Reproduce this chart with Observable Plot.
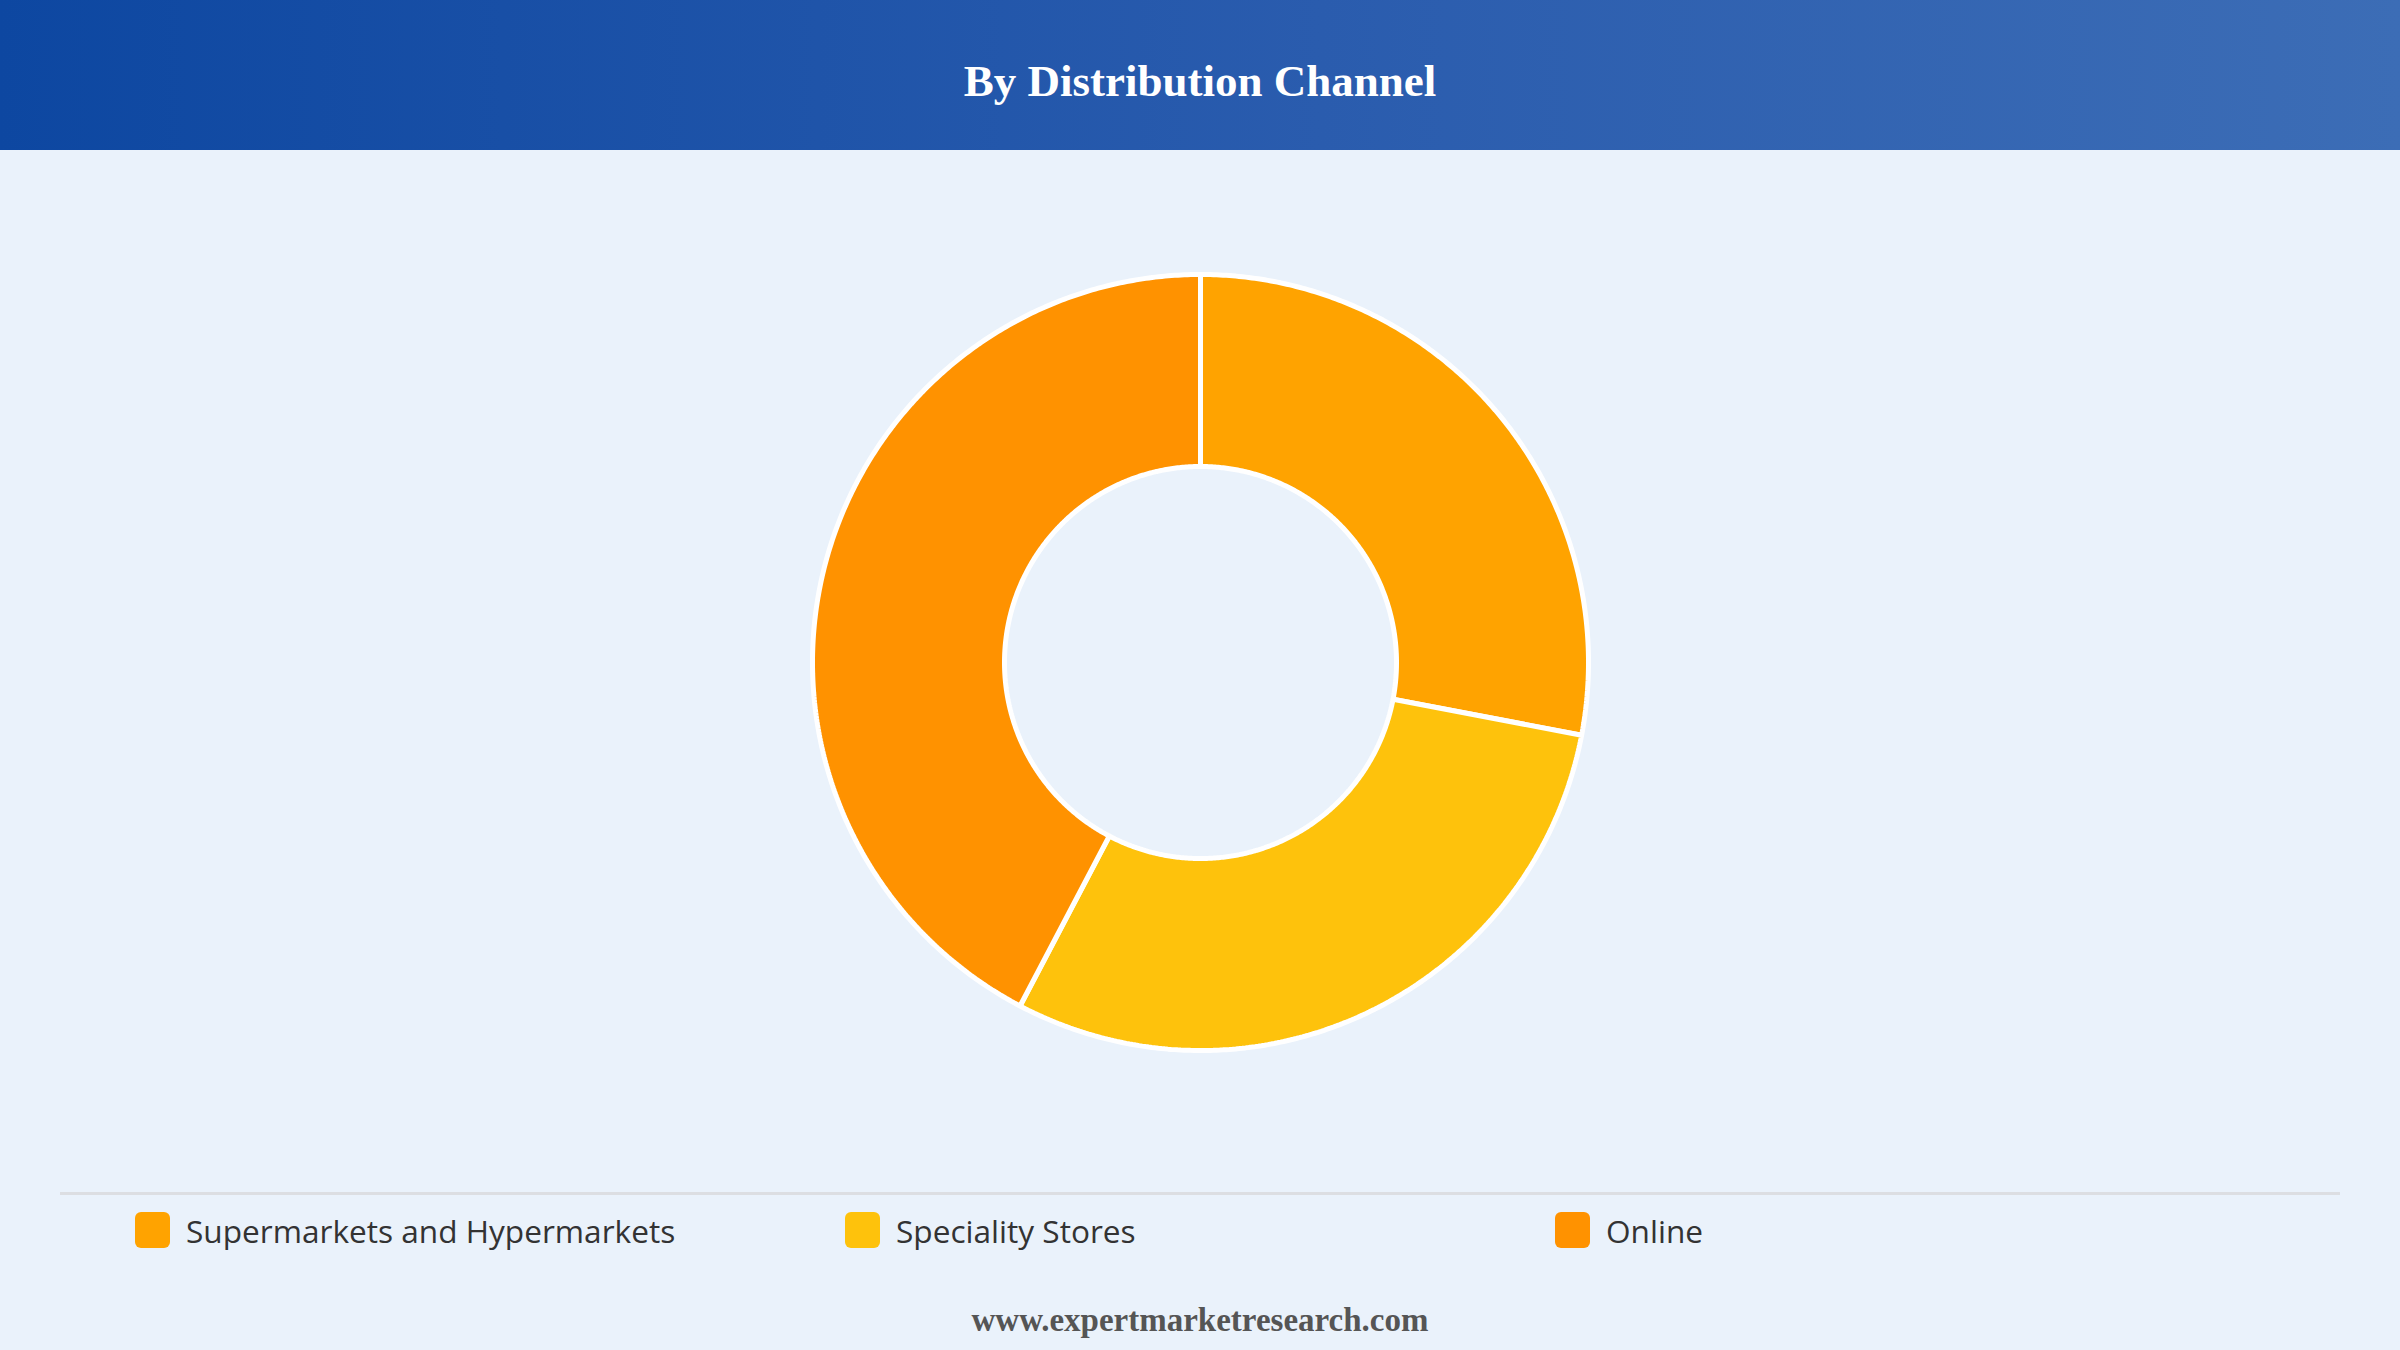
<!DOCTYPE html>
<html>
<head>
<meta charset="utf-8">
<script src="https://cdn.jsdelivr.net/npm/d3@7"></script>
<script src="https://cdn.jsdelivr.net/npm/@observablehq/plot@0.6"></script>
<style>
  html, body { margin: 0; padding: 0; }
  body { width: 2400px; height: 1350px; background: #EAF2FB; overflow: hidden; position: relative; }
  #header { position: absolute; left: 0; top: 0; width: 2400px; height: 150px;
    background: linear-gradient(90deg, #0D47A1 0%, #2A5CAE 55%, #3C6DB6 100%);
    display: flex; align-items: center; justify-content: center; }
  #header h1 { margin: 0; color: #fff; font-family: "Liberation Serif", "DejaVu Serif", serif; font-weight: bold; font-size: 45px; position: relative; top: 6px; }
  #chart { position: absolute; left: 0; top: 150px; width: 2400px; height: 1024px; }
  #divider { position: absolute; left: 60px; top: 1192px; width: 2280px; height: 3px; background: #DCDEE2; }
  #legend { position: absolute; left: 135px; top: 1210px; width: 2130px; display: grid; grid-template-columns: repeat(3, 710px); }
  .item { display: flex; align-items: center; height: 40px; }
  .sw { width: 35px; height: 36px; border-radius: 6px; margin-right: 16px; flex: none; }
  .lab { font-family: "Open Sans", "Noto Sans", sans-serif; font-size: 31.6px; color: #333; }
  #footer { position: absolute; left: 0; top: 1302px; width: 2400px; text-align: center;
    font-family: "Liberation Serif", serif; font-weight: bold; font-size: 33px; color: #555; }
</style>
</head>
<body>
<div id="header"><h1>By Distribution Channel</h1></div>
<div id="chart"></div>
<div id="divider"></div>
<div id="legend"></div>
<div id="footer">www.expertmarketresearch.com</div>
<script>
const categories = ["Supermarkets and Hypermarkets", "Speciality Stores", "Online"];
const shares = [28.0, 29.7, 42.3];
const colors = ["#FFA300", "#FEC20C", "#FF9200"];

const W = 2400, H = 1024;
const R_OUT = 388, R_IN = 196;

const pie = d3.pie().sort(null).value(d => d.value);
const arcs = pie(categories.map((c, i) => ({category: c, value: shares[i]})));

// Build polygon outline for each slice from pie angles
const pts = [];
arcs.forEach(a => {
  const n = Math.max(8, Math.ceil((a.endAngle - a.startAngle) * 120));
  const ring = [];
  for (let k = 0; k <= n; k++) {
    const t = a.startAngle + (a.endAngle - a.startAngle) * k / n;
    ring.push({category: a.data.category, x: R_OUT * Math.sin(t), y: R_OUT * Math.cos(t)});
  }
  for (let k = n; k >= 0; k--) {
    const t = a.startAngle + (a.endAngle - a.startAngle) * k / n;
    ring.push({category: a.data.category, x: R_IN * Math.sin(t), y: R_IN * Math.cos(t)});
  }
  pts.push(...ring);
});

const chart = Plot.plot({
  width: W,
  height: H,
  margin: 0,
  style: {background: "transparent"},
  x: {domain: [-W / 2, W / 2], axis: null},
  y: {domain: [-H / 2, H / 2], axis: null},
  color: {domain: categories, range: colors},
  marks: [
    Plot.line(pts, {x: "x", y: "y", z: "category", fill: "category", stroke: "#fff", strokeWidth: 5, strokeLinejoin: "miter", curve: "linear-closed"})
  ]
});
document.getElementById("chart").appendChild(chart);

const legend = document.getElementById("legend");
categories.forEach((c, i) => {
  const it = document.createElement("div");
  it.className = "item";
  it.innerHTML = `<span class="sw" style="background:${colors[i]}"></span><span class="lab">${c}</span>`;
  legend.appendChild(it);
});
</script>
</body>
</html>
